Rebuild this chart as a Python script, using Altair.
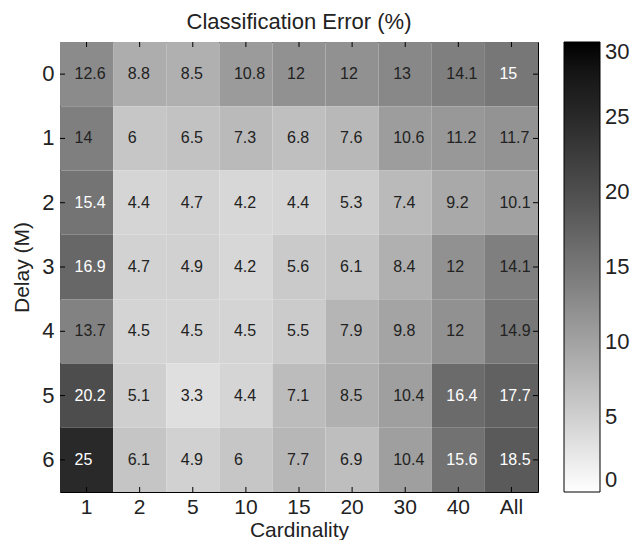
import altair as alt
import pandas as pd

cardinality = ["1", "2", "5", "10", "15", "20", "30", "40", "All"]
delays = ["0", "1", "2", "3", "4", "5", "6"]
err_d0 = [12.6, 8.8, 8.5, 10.8, 12, 12, 13, 14.1, 15]
err_d1 = [14, 6, 6.5, 7.3, 6.8, 7.6, 10.6, 11.2, 11.7]
err_d2 = [15.4, 4.4, 4.7, 4.2, 4.4, 5.3, 7.4, 9.2, 10.1]
err_d3 = [16.9, 4.7, 4.9, 4.2, 5.6, 6.1, 8.4, 12, 14.1]
err_d4 = [13.7, 4.5, 4.5, 4.5, 5.5, 7.9, 9.8, 12, 14.9]
err_d5 = [20.2, 5.1, 3.3, 4.4, 7.1, 8.5, 10.4, 16.4, 17.7]
err_d6 = [25, 6.1, 4.9, 6, 7.7, 6.9, 10.4, 15.6, 18.5]
colorbar_ticks = [0, 5, 10, 15, 20, 25, 30]

rows = [err_d0, err_d1, err_d2, err_d3, err_d4, err_d5, err_d6]
records = []
for d, row in zip(delays, rows):
    for c, v in zip(cardinality, row):
        records.append({"delay": d, "card": c, "err": v, "label": f"{v:g}"})
df = pd.DataFrame(records)

W, H = 478, 450
FONT = "Liberation Sans"

xs = alt.X("card:N", sort=cardinality, title="Cardinality",
           scale=alt.Scale(paddingInner=0, paddingOuter=0),
           axis=alt.Axis(labelAngle=0, labelFontSize=21, titleFontSize=21,
                         labelPadding=4, titlePadding=2, ticks=False, domain=False))
ys = alt.Y("delay:N", sort=delays, title="Delay (M)",
           scale=alt.Scale(paddingInner=0, paddingOuter=0),
           axis=alt.Axis(labelFontSize=22, titleFontSize=21, labelPadding=6,
                         titlePadding=9, ticks=False, domain=False))

heat = alt.Chart(df).mark_rect().encode(
    x=xs, y=ys,
    color=alt.Color("err:Q",
                    scale=alt.Scale(domain=[0, 30], range=["white", "black"]),
                    legend=alt.Legend(title=None, values=colorbar_ticks,
                                      gradientLength=H, gradientThickness=36,
                                      labelFontSize=22, labelOverlap=False,
                                      gradientStrokeColor="black",
                                      gradientStrokeWidth=1, offset=26,
                                      labelOffset=5, labelColor="#222222")),
)

text = alt.Chart(df).mark_text(align="left", dx=-12, fontSize=16, font=FONT).encode(
    x=alt.X("card:N", sort=cardinality),
    y=alt.Y("delay:N", sort=delays),
    text="label:N",
    color=alt.condition("datum.err >= 15", alt.value("white"), alt.value("#222222")),
)

xt = pd.DataFrame({"card": cardinality})
yt = pd.DataFrame({"delay": delays})
tb = alt.Chart(xt).mark_rule(color="black").encode(
    x=alt.X("card:N", sort=cardinality), y=alt.value(H - 5), y2=alt.value(H))
tt = alt.Chart(xt).mark_rule(color="black").encode(
    x=alt.X("card:N", sort=cardinality), y=alt.value(0), y2=alt.value(5))
tl = alt.Chart(yt).mark_rule(color="black").encode(
    y=alt.Y("delay:N", sort=delays), x=alt.value(0), x2=alt.value(5))
tr = alt.Chart(yt).mark_rule(color="black").encode(
    y=alt.Y("delay:N", sort=delays), x=alt.value(W - 5), x2=alt.value(W))

chart = alt.layer(heat, text, tb, tt, tl, tr).properties(
    width=W, height=H,
    title=alt.TitleParams("Classification Error (%)", fontSize=22, fontWeight="normal",
                          font=FONT, offset=8, color="#222222"),
    padding={"left": 3, "top": 2, "right": 3, "bottom": 0},
).configure_view(stroke="black", strokeWidth=1).configure_axis(
    labelFont=FONT, titleFont=FONT, labelColor="#222222", titleColor="#222222",
    titleFontWeight="normal"
).configure_legend(labelFont=FONT)

chart.save("out.html", embed_options={"renderer": "svg", "actions": False})
